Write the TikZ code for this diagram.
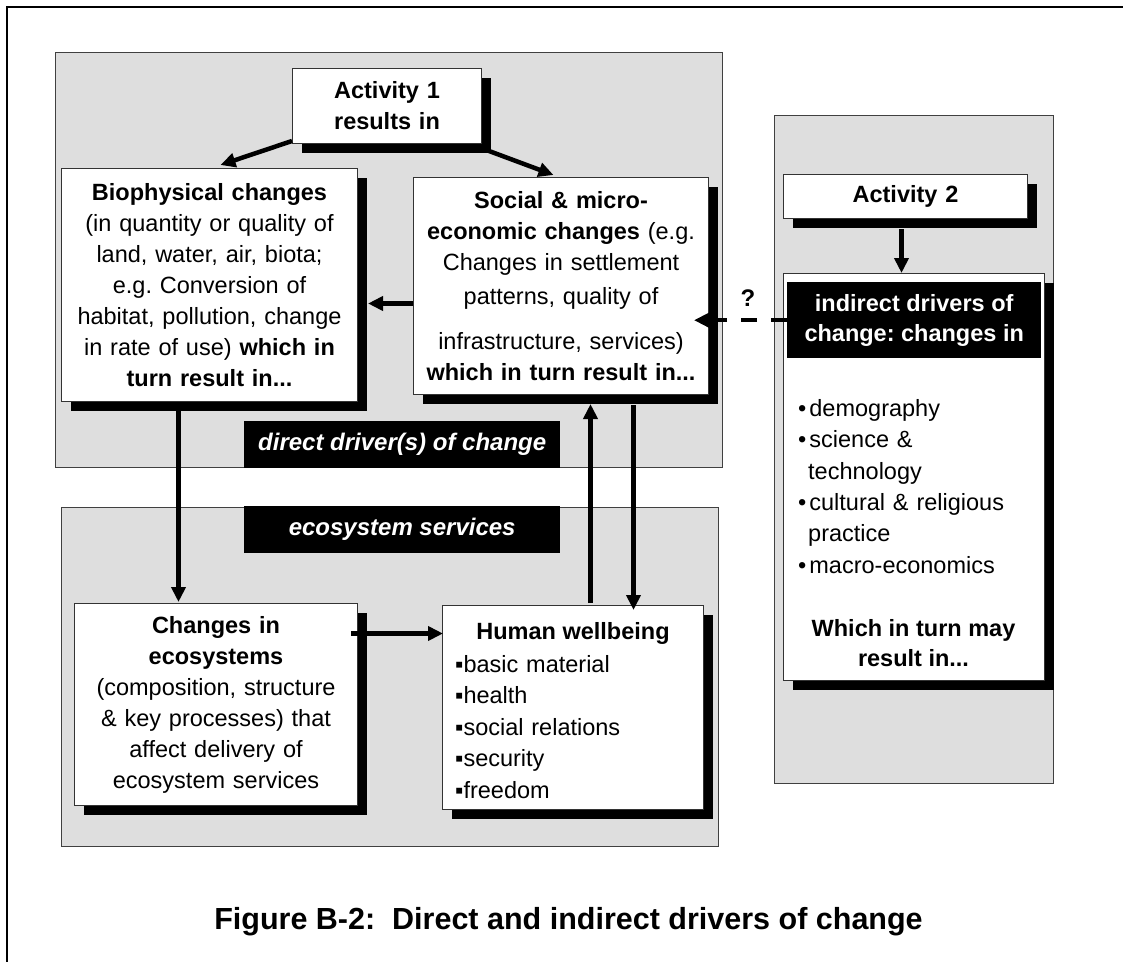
\documentclass[tikz,border=0pt]{standalone}
\usepackage{fontspec}
\setmainfont{Liberation Sans}
\usetikzlibrary{arrows.meta,shadows,calc}
\frenchspacing
\begin{document}
\begin{tikzpicture}[x=1pt,y=-1pt,
  panel/.style={draw=black!75,line width=1.3pt,fill=black!13,inner sep=0pt,anchor=north west},
  box/.style={draw=black!80,line width=1pt,fill=white,inner sep=0pt,align=center,anchor=north west,
     font=\fontsize{23.5}{31}\selectfont,
     drop shadow={shadow xshift=9pt,shadow yshift=-9pt,opacity=1,fill=black}},
  lbl/.style={fill=black,text=white,font=\fontsize{24}{28}\selectfont\bfseries\itshape,inner sep=0pt,anchor=north west},
  arr/.style={line width=4.5pt,-{Triangle[length=15pt,width=14pt]}},
  dasharr/.style={arr,dash pattern=on 16pt off 14pt},
  txt/.style={inner sep=0pt,font=\fontsize{23.5}{31}\selectfont},
]
\useasboundingbox (0,0) rectangle (1123,961);
\clip (0,0) rectangle (1123,961);
\fill[white] (0,0) rectangle (1123,961);
\draw[line width=2pt] (7,7) rectangle (1140,990);

% panels
\node[panel,minimum width=667,minimum height=415] (pdir) at (55,52) {};
\node[panel,minimum width=657,minimum height=339] (peco) at (61,507) {};
\node[panel,minimum width=279,minimum height=668] (pind) at (774,115) {};

% boxes
\node[box,minimum width=189,minimum height=75,text width=180] (a1) at (292,68)
  {\textbf{Activity 1}\\\textbf{results in}};
\node[box,minimum width=296,minimum height=233,text width=290] (bio) at (61,168)
  {\textbf{Biophysical changes}\\(in quantity or quality of\\land, water, air, biota;\\e.g. Conversion of\\habitat, pollution, change\\in rate of use) \textbf{which in}\\\textbf{turn result in...}};
\node[box,minimum width=295,minimum height=217,text width=290] (soc) at (413,177)
  {\textbf{Social \& micro-}\\\textbf{economic changes} (e.g.\\Changes in settlement\\[3pt]patterns, quality of\\[14pt]infrastructure, services)\\\textbf{which in turn result in...}};
\node[box,minimum width=244,minimum height=44,text width=240] (a2) at (783,174)
  {\textbf{Activity 2}};
\node[box,minimum width=261,minimum height=407] (ind) at (783,273) {};
\node[box,minimum width=283,minimum height=202,text width=280] (eco) at (74,603)
  {\textbf{Changes in}\\\textbf{ecosystems}\\(composition, structure\\\& key processes) that\\affect delivery of\\ecosystem services};
\node[box,minimum width=261,minimum height=204] (hw) at (442,605) {};

% texts inside composite boxes
\node[fill=black,text=white,inner sep=0pt,anchor=north west,minimum width=254,minimum height=76,
  align=center,font=\fontsize{23.5}{30}\selectfont\bfseries] (hdr) at (787,282)
  {indirect drivers of\\change: changes in};
\node[txt,anchor=north west,align=left,text width=240,font=\fontsize{23.5}{31.4}\selectfont] (indlist) at (798,399)
  {\textbullet\hspace{3pt}demography\\\textbullet\hspace{3pt}science \&\\\hspace*{10pt}technology\\\textbullet\hspace{3pt}cultural \& religious\\\hspace*{10pt}practice\\\textbullet\hspace{3pt}macro-economics};
\node[txt,align=center,font=\fontsize{23.5}{30}\selectfont\bfseries] (ind2) at (913.5,643)
  {Which in turn may\\result in...};
\node[txt,font=\fontsize{23.5}{30}\selectfont\bfseries] (hwh) at (573,633) {Human wellbeing};
\node[txt,anchor=north west,align=left,text width=240,font=\fontsize{23.5}{31.5}\selectfont] (hwl) at (455,655)
  {▪basic material\\▪health\\▪social relations\\▪security\\▪freedom};

% labels
\node[lbl,minimum width=316,minimum height=47] (ldir) at (244,421) {direct driver(s) of change};
\node[lbl,minimum width=316,minimum height=47] (leco) at (244,506) {ecosystem services};

% arrows
\draw[arr] ([shift={(0,-3)}]a1.south west) -- ([shift={(11,-3)}]bio.north);
\draw[arr] ([shift={(7,7)}]a1.south east) -- ([shift={(-7.5,-2)}]soc.north);
\draw[arr] ([shift={(0,17.5)}]soc.west) -- ([shift={(10,18.5)}]bio.east);
\draw[dasharr] (hdr.west) -- ([xshift=-15pt]hdr.west -| soc.east);
\node[txt,font=\fontsize{24}{28}\selectfont\bfseries] (q) at (748,298) {?};
\draw[arr] ([shift={(-4,10)}]a2.south) -- ([shift={(-12.5,0)}]ind.north);
\draw[arr] ([shift={(-31,9)}]bio.south) -- ([shift={(-37.5,-1)}]eco.north);
\draw[arr] ([shift={(-7,-71)}]eco.east) -- ([shift={(1,-74)}]hw.west);
\draw[arr] ([shift={(17.5,-2)}]hw.north) -- ([shift={(29.5,9)}]soc.south);
\draw[arr] ([shift={(72.5,10)}]soc.south) -- ([shift={(60.5,5)}]hw.north);

% caption
\node[inner sep=0pt,anchor=base,font=\fontsize{30.5}{36}\selectfont\bfseries] (cap) at (568.5,929)
  {Figure B-2:\ \ Direct and indirect drivers of change};
\end{tikzpicture}
\end{document}
